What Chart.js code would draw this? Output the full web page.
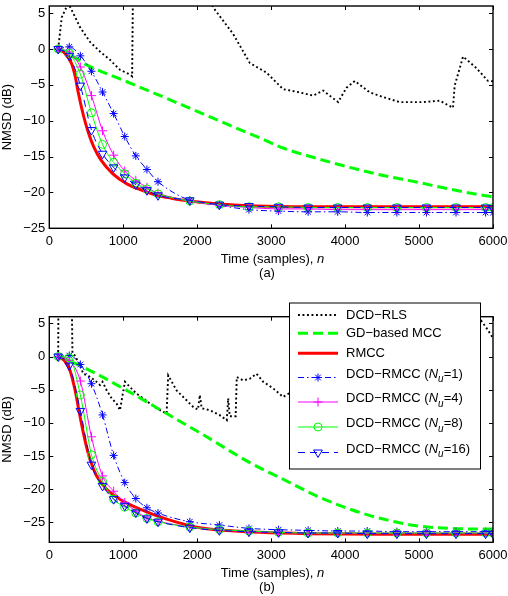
<!DOCTYPE html>
<html>
<head>
<meta charset="utf-8">
<script src="https://cdn.jsdelivr.net/npm/chart.js@4.4.0/dist/chart.umd.min.js"></script>
<style>
  body { margin: 0; background: #fff; }
  #wrap { position: relative; width: 508px; height: 596px; }
  .box { position: absolute; left: 0; width: 508px; }
</style>
</head>
<body>
<div id="wrap">
  <div class="box" style="top:0;height:290px"><canvas id="chartA"></canvas></div>
  <div class="box" style="top:290px;height:306px"><canvas id="chartB"></canvas></div>
</div>
<script>
// ---- data ----
const seriesNames = ["DCD\u2212RLS", "GD\u2212based MCC", "RMCC",
  "DCD\u2212RMCC (N_u=1)", "DCD\u2212RMCC (N_u=4)", "DCD\u2212RMCC (N_u=8)", "DCD\u2212RMCC (N_u=16)"];
const xTicks = [0, 1000, 2000, 3000, 4000, 5000, 6000];
const yTicksA = [-25, -20, -15, -10, -5, 0, 5];
const yTicksB = [-25, -20, -15, -10, -5, 0, 5];

// sample indices where the DCD-RMCC markers sit (both panels)
const markerN = [120, 270, 420, 570, 720, 870, 1020, 1170, 1320, 1470, 1900, 2300, 2700, 3100, 3500, 3900, 4300, 4700, 5100, 5500, 5900, 6000];

// panel (a)
const rlsNA = [120, 168, 230, 260, 300, 415, 550, 685, 820, 955, 1090, 1120, 1135, 2100, 2150, 2216, 2486, 2712, 2938, 3162, 3388, 3568, 3703, 3906, 4019, 4131, 4334, 4514, 4739, 5054, 5280, 5459, 5482, 5595, 5775, 5932, 6000];
const rlsA = [0, 4.4, 5.8, 6.3, 5.5, 3.05, 1.0, -0.35, -1.5, -2.9, -3.55, -3.8, 12, 12, 7.5, 5.8, 2.1, -1.95, -3.3, -5.6, -6.05, -6.5, -5.8, -7.4, -5.4, -4.45, -6.05, -6.7, -7.4, -7.4, -7.2, -8.2, -5.1, -1.05, -2.65, -4.45, -4.5];
const gdNA = [120, 300, 505, 1000, 1500, 2000, 2500, 2850, 3162, 3600, 4064, 4500, 4965, 5400, 5865, 6000];
const gdA = [0, -0.9, -2.2, -4.35, -6.5, -8.7, -10.9, -12.4, -13.8, -15.2, -16.5, -17.6, -18.55, -19.5, -20.4, -20.6];
const rmccNA = [120, 210, 300, 350, 390, 460, 530, 600, 700, 860, 1050, 1230, 1450, 1650, 1900, 2300, 2800, 3500, 4500, 6000];
const rmccA = [0, -0.6, -2.0, -3.8, -6.0, -9.2, -11.7, -13.6, -15.5, -17.4, -18.8, -19.6, -20.4, -20.8, -21.2, -21.6, -21.9, -22.0, -22.0, -22.0];
const nu1A = [0, 0.3, -0.95, -3.1, -6.0, -9.0, -12.2, -14.9, -16.8, -18.5, -21.1, -21.8, -22.4, -22.6, -22.7, -22.7, -22.8, -22.8, -22.8, -22.8, -22.8, -22.8];
const nu4A = [0, -0.4, -2.5, -6.5, -11.4, -14.8, -17.0, -18.3, -19.3, -20.1, -21.2, -21.8, -22.1, -22.3, -22.3, -22.4, -22.4, -22.4, -22.4, -22.4, -22.4, -22.4];
const nu8A = [0, -0.6, -3.5, -8.9, -13.3, -15.8, -17.4, -18.7, -19.5, -20.2, -21.2, -21.7, -22.0, -22.0, -22.1, -22.1, -22.1, -22.1, -22.1, -22.1, -22.1, -22.1];
const nu16A = [0, -0.95, -5.1, -11.3, -14.6, -16.5, -17.9, -18.9, -19.7, -20.4, -21.1, -21.7, -21.9, -22.0, -22.1, -22.1, -22.1, -22.1, -22.1, -22.1, -22.1, -22.2];

// panel (b)
const rlsNB = [120, 125, 300, 313, 347, 415, 460, 540, 618, 685, 720, 776, 843, 910, 955, 1023, 1090, 1180, 1270, 1361, 1451, 1586, 1608, 1721, 1811, 1946, 2010, 2036, 2060, 2172, 2300, 2400, 2419, 2440, 2520, 2535, 2622, 2712, 2802, 2892, 3027, 3162, 3250, 3500, 4000, 4500, 5000, 5500, 5840, 5900, 6000];
const rlsB = [0, 12, 12, 0.45, 0.15, -1.35, -2.6, -3.0, -3.6, -4.3, -3.8, -5.1, -6.3, -7.1, -8.1, -3.8, -4.6, -5.6, -6.3, -7.1, -7.8, -8.6, -2.85, -5.1, -6.1, -7.6, -8.0, -5.8, -7.8, -8.1, -8.8, -9.6, -6.3, -9.0, -9.0, -3.1, -3.6, -3.35, -2.6, -3.8, -4.8, -6.1, -5.5, -4.0, -2.0, 0.0, 2.0, 4.0, 5.4, 4.5, 2.8];
const gdNB = [120, 300, 505, 1046, 1586, 2127, 2712, 3162, 3613, 4064, 4514, 4965, 5415, 5955, 6000];
const gdB = [0, -0.8, -1.85, -5.1, -8.6, -12.1, -16.0, -18.5, -21.0, -23.0, -24.5, -25.5, -25.9, -26.0, -26.0];
const rmccNB = [120, 210, 280, 347, 415, 482, 550, 640, 776, 955, 1226, 1586, 2036, 2500, 2847, 3500, 4500, 6000];
const rmccB = [0, -0.7, -2.1, -5.0, -9.0, -12.6, -15.5, -18.0, -20.0, -21.5, -23.0, -24.5, -25.8, -26.3, -26.5, -26.7, -26.8, -26.8];
const nu1B = [0, 0.15, -1.2, -4.1, -8.8, -14.9, -19.0, -21.4, -22.8, -23.6, -24.9, -25.4, -25.9, -26.1, -26.2, -26.3, -26.3, -26.4, -26.4, -26.4, -26.4, -26.4];
const nu4B = [0, -0.6, -3.7, -12.1, -18.0, -20.3, -22.0, -23.3, -24.3, -24.8, -25.7, -26.1, -26.4, -26.5, -26.6, -26.6, -26.6, -26.6, -26.6, -26.6, -26.6, -26.6];
const nu8B = [0, -0.2, -5.8, -14.8, -18.8, -21.5, -22.7, -23.6, -24.4, -24.9, -25.7, -26.1, -26.3, -26.5, -26.6, -26.6, -26.6, -26.6, -26.6, -26.6, -26.6, -26.6];
const nu16B = [0, -1.35, -8.2, -16.3, -19.5, -21.5, -22.5, -23.5, -24.4, -24.9, -25.8, -26.2, -26.4, -26.5, -26.6, -26.6, -26.7, -26.7, -26.7, -26.7, -26.7, -26.7];

// ---- helpers ----
const FONT = '"Liberation Sans", Arial, Helvetica, sans-serif';
Chart.defaults.font.family = FONT;
Chart.defaults.font.size = 13;
Chart.defaults.color = "#000";

const pts = (ns, vs) => ns.map((n, i) => ({ x: n, y: vs[i] }));
const minus = (v) => String(v).replace("-", "\u2212");

function makeDatasets(p) {
  return [
    { label: seriesNames[0], data: pts(p.rlsN, p.rls), borderColor: "#000000", borderWidth: 1.9,
      borderDash: [1.9, 2.6], pointRadius: 0, tension: 0, order: 7 },
    { label: seriesNames[1], data: pts(p.gdN, p.gd), borderColor: "#00ff00", borderWidth: 3,
      borderDash: [10, 5], pointRadius: 0, cubicInterpolationMode: "monotone", order: 6 },
    { label: seriesNames[2], data: pts(p.rmccN, p.rmcc), borderColor: "#ff0000", borderWidth: 3,
      pointRadius: 0, cubicInterpolationMode: "monotone", order: 5 },
    { label: seriesNames[3], data: pts(markerN, p.nu1), borderColor: "#0000ff", borderWidth: 1,
      borderDash: [6, 3, 1.5, 3], pointStyle: "star", pointRadius: 4, pointBorderWidth: 1,
      pointBorderColor: "#0000ff", pointBackgroundColor: "rgba(0,0,0,0)", cubicInterpolationMode: "monotone", order: 4 },
    { label: seriesNames[4], data: pts(markerN, p.nu4), borderColor: "#ff00ff", borderWidth: 1,
      pointStyle: "cross", pointRadius: 4.5, pointBorderWidth: 1,
      pointBorderColor: "#ff00ff", pointBackgroundColor: "rgba(0,0,0,0)", cubicInterpolationMode: "monotone", order: 3 },
    { label: seriesNames[5], data: pts(markerN, p.nu8), borderColor: "#00ff00", borderWidth: 1,
      pointStyle: "circle", pointRadius: 4, pointBorderWidth: 1,
      pointBorderColor: "#00ff00", pointBackgroundColor: "rgba(0,0,0,0)", cubicInterpolationMode: "monotone", order: 2 },
    { label: seriesNames[6], data: pts(markerN, p.nu16), borderColor: "#0000ff", borderWidth: 1,
      borderDash: [7, 5], pointStyle: "triangle", pointRotation: 180, pointRadius: 5, pointBorderWidth: 1,
      pointBorderColor: "#0000ff", pointBackgroundColor: "rgba(0,0,0,0)", cubicInterpolationMode: "monotone", order: 1 },
  ];
}

// box, inside ticks and the x label (with italic n)
const framePlugin = {
  id: "frame",
  afterDraw(chart, args, o) {
    const { ctx, chartArea: a } = chart;
    const x = chart.scales.x, y = chart.scales.y;
    ctx.save();
    ctx.strokeStyle = "#000";
    ctx.lineWidth = 1;
    ctx.beginPath();
    x.ticks.forEach((t) => {
      const px = Math.round(x.getPixelForValue(t.value)) + 0.5;
      ctx.moveTo(px, a.bottom); ctx.lineTo(px, a.bottom - 4);
      ctx.moveTo(px, a.top); ctx.lineTo(px, a.top + 4);
    });
    y.ticks.forEach((t) => {
      const py = Math.round(y.getPixelForValue(t.value)) + 0.5;
      ctx.moveTo(a.left, py); ctx.lineTo(a.left + 4, py);
      ctx.moveTo(a.right, py); ctx.lineTo(a.right - 4, py);
    });
    ctx.stroke();
    ctx.lineWidth = 1.4;
    ctx.strokeRect(a.left, a.top, a.right - a.left, a.bottom - a.top);

    // x axis label
    const cy = a.bottom + o.titleDy;
    const partA = "Time (samples), ";
    ctx.fillStyle = "#000";
    ctx.textBaseline = "middle";
    ctx.textAlign = "left";
    ctx.font = "13px " + FONT;
    const wa = ctx.measureText(partA).width;
    ctx.font = "italic 13px " + FONT;
    const wb = ctx.measureText("n").width;
    const x0 = o.titleX - (wa + wb) / 2;
    ctx.font = "13px " + FONT;
    ctx.fillText(partA, x0, cy);
    ctx.font = "italic 13px " + FONT;
    ctx.fillText("n", x0 + wa, cy);
    ctx.font = "13px " + FONT;
    ctx.textAlign = "center";
    ctx.fillText(o.tag, o.tagX, cy + 14.5);
    ctx.restore();
  },
};

// legend drawn as in the figure (italic N with subscript u)
function drawLabel(ctx, text, x, y) {
  ctx.textAlign = "left";
  ctx.textBaseline = "middle";
  ctx.fillStyle = "#000";
  if (text.indexOf("N_u") < 0) {
    ctx.font = "13px " + FONT;
    ctx.fillText(text, x, y);
    return;
  }
  const [pre, post] = text.split("N_u");
  const ty = y - 3.5;
  ctx.font = "13px " + FONT;
  ctx.fillText(pre, x, ty);
  x += ctx.measureText(pre).width;
  ctx.font = "italic 13px " + FONT;
  ctx.fillText("N", x, ty);
  x += ctx.measureText("N").width;
  ctx.font = "italic 10px " + FONT;
  ctx.fillText("u", x, ty + 5.5);
  x += ctx.measureText("u").width;
  ctx.font = "13px " + FONT;
  ctx.fillText(post, x, ty);
}

const legendPlugin = {
  id: "figLegend",
  afterDraw(chart, args, o) {
    if (!o.show) return;
    const ctx = chart.ctx;
    ctx.save();
    ctx.fillStyle = "#fff";
    ctx.fillRect(o.x, o.y, o.w, o.h);
    ctx.strokeStyle = "#000";
    ctx.lineWidth = 1;
    ctx.strokeRect(o.x + 0.5, o.y + 0.5, o.w, o.h);
    chart.data.datasets.forEach((ds, i) => {
      const ly = o.rows[i];
      ctx.strokeStyle = ds.borderColor;
      ctx.lineWidth = ds.borderWidth;
      ctx.setLineDash(ds.borderDash || []);
      ctx.beginPath();
      ctx.moveTo(o.x1, ly);
      ctx.lineTo(o.x2, ly);
      ctx.stroke();
      ctx.setLineDash([]);
      if (ds.pointRadius > 0) {
        ctx.strokeStyle = ds.pointBorderColor;
        ctx.fillStyle = "rgba(0,0,0,0)";
        ctx.lineWidth = ds.pointBorderWidth;
        Chart.helpers.drawPoint(ctx, {
          pointStyle: ds.pointStyle, rotation: ds.pointRotation || 0,
          radius: ds.pointRadius, borderWidth: ds.pointBorderWidth,
        }, (o.x1 + o.x2) / 2, ly);
      }
      drawLabel(ctx, ds.label, o.tx, ly);
    });
    ctx.restore();
  },
};

function makeChart(id, p) {
  return new Chart(document.getElementById(id), {
    type: "line",
    data: { datasets: makeDatasets(p) },
    plugins: [framePlugin, legendPlugin],
    options: {
      responsive: true,
      maintainAspectRatio: false,
      animation: false,
      events: [],
      layout: { padding: { top: p.top, right: 15, left: 0, bottom: 0 } },
      scales: {
        x: {
          type: "linear", min: 0, max: 6000,
          grid: { display: false, drawTicks: false },
          border: { display: false },
          ticks: { padding: 5, callback: (v) => String(v) },
          afterBuildTicks: (s) => { s.ticks = xTicks.map((v) => ({ value: v })); },
          afterFit: (s) => { s.height = p.xHeight; s.paddingLeft = 0; s.paddingRight = 0; },
        },
        y: {
          type: "linear", min: p.ymin, max: p.ymax,
          grid: { display: false, drawTicks: false },
          border: { display: false },
          ticks: { padding: 4, callback: minus },
          afterBuildTicks: (s) => { s.ticks = p.yTicks.map((v) => ({ value: v })); },
          afterFit: (s) => { s.width = 49.3; s.paddingTop = 0; s.paddingBottom = 0; },
          title: { display: true, text: "NMSD (dB)", padding: { top: 0, bottom: 0 } },
        },
      },
      plugins: {
        legend: { display: false },
        tooltip: { enabled: false },
        frame: { titleDy: 31, titleX: 272.5, tag: p.tag, tagX: 267 },
        figLegend: p.legend,
      },
    },
  });
}

makeChart("chartA", {
  rlsN: rlsNA, rls: rlsA, gdN: gdNA, gd: gdA, rmccN: rmccNA, rmcc: rmccA,
  nu1: nu1A, nu4: nu4A, nu8: nu8A, nu16: nu16A,
  ymin: -25, ymax: 6, yTicks: yTicksA, top: 2, xHeight: 61.7, tag: "(a)",
  legend: { show: false },
});

makeChart("chartB", {
  rlsN: rlsNB, rls: rlsB, gdN: gdNB, gd: gdB, rmccN: rmccNB, rmcc: rmccB,
  nu1: nu1B, nu4: nu4B, nu8: nu8B, nu16: nu16B,
  ymin: -28, ymax: 6, yTicks: yTicksB, top: 26.7, xHeight: 53.7, tag: "(b)",
  legend: { show: true, x: 289, y: 12.5, w: 191, h: 166, x1: 298, x2: 338, tx: 346,
            rows: [25, 43.3, 63.3, 87.5, 112, 137, 162.5] },
});
</script>
</body>
</html>
